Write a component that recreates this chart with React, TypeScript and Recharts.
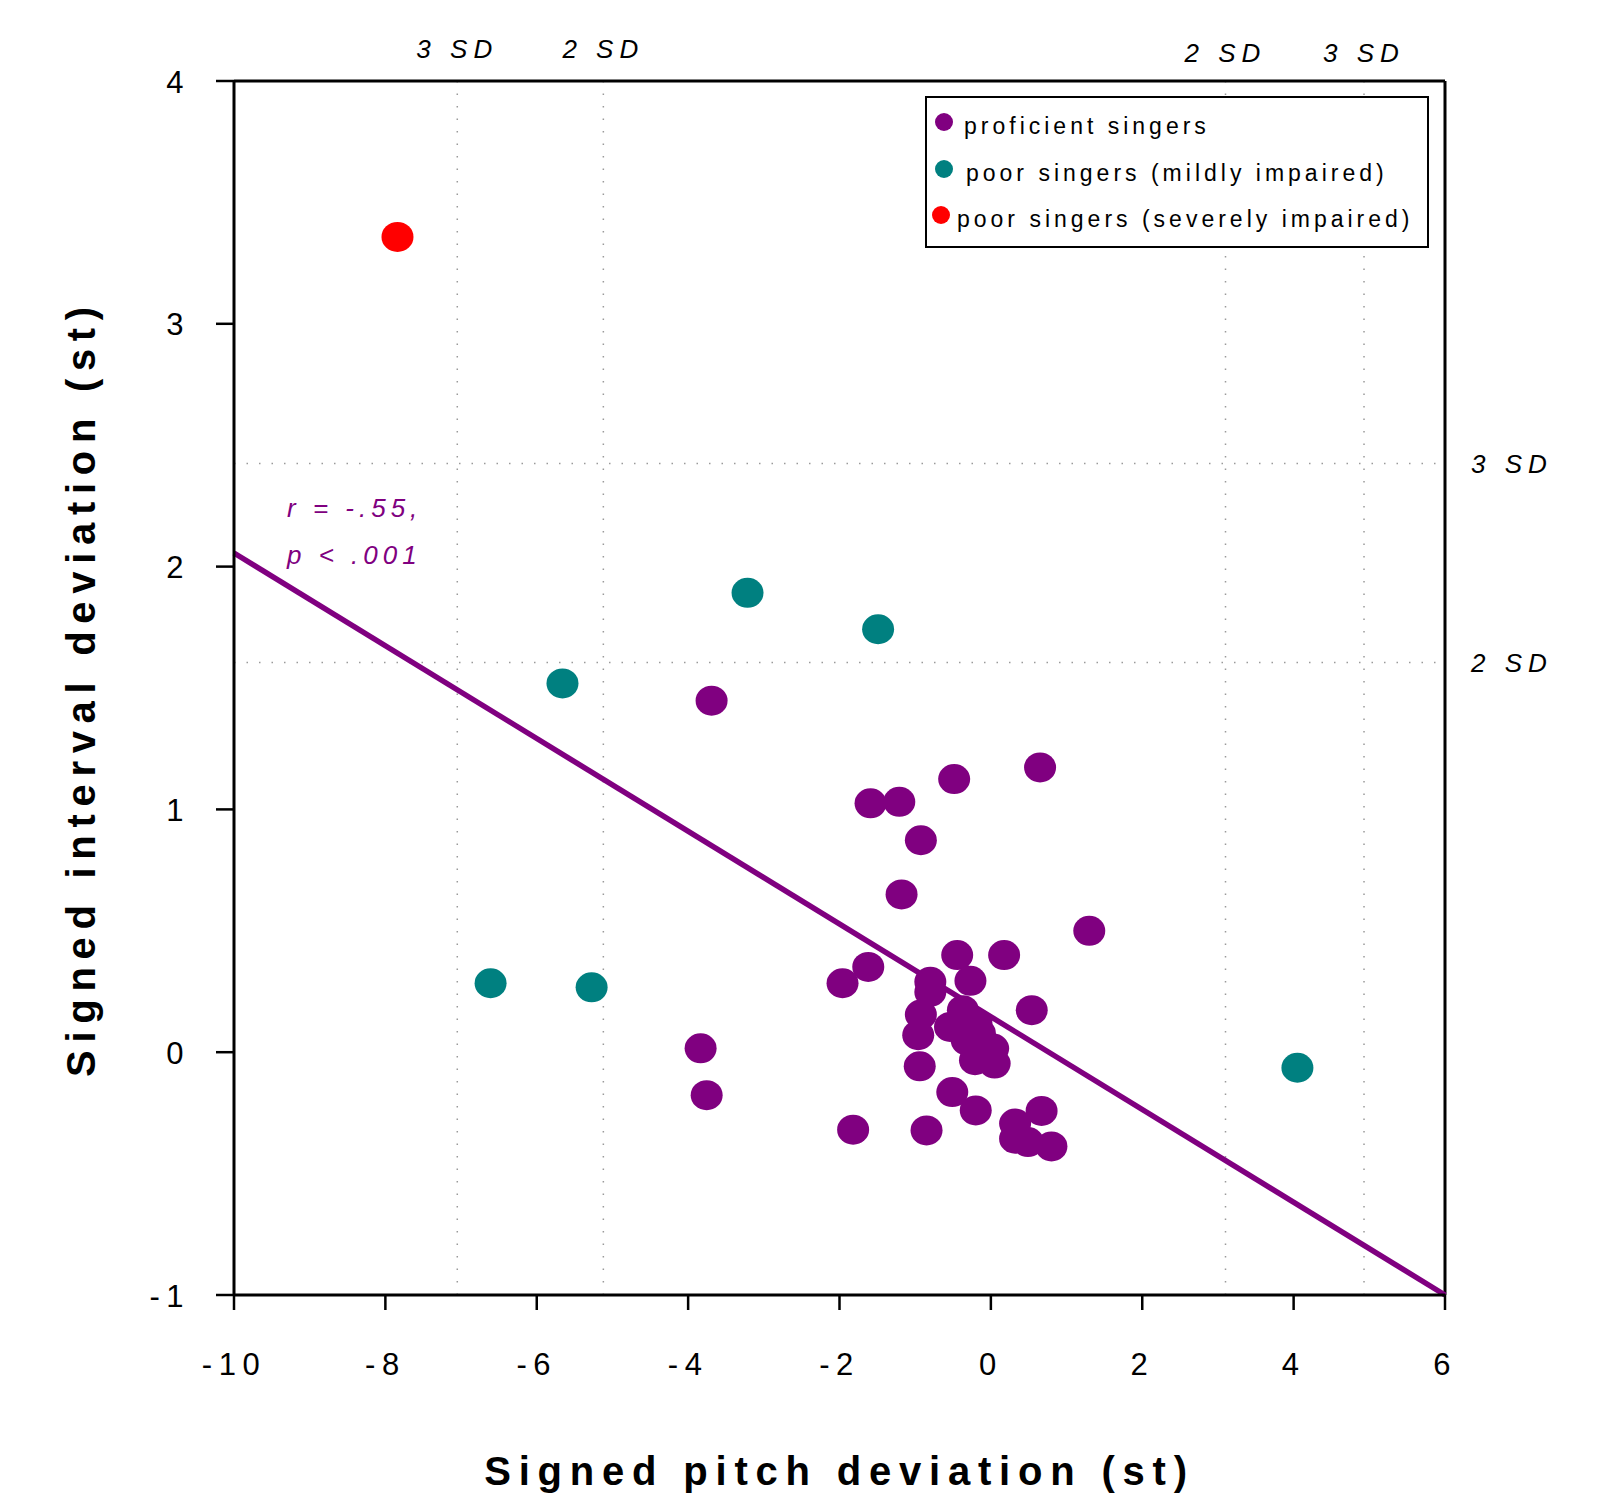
import {
  ScatterChart,
  Scatter,
  XAxis,
  YAxis,
  ReferenceLine,
} from 'recharts'

const FONT = '"Liberation Sans", Arial, sans-serif'
const PURPLE = '#800080'
const TEAL = '#008080'
const RED = '#ff0000'

const xTicks = [-10, -8, -6, -4, -2, 0, 2, 4, 6]
const yTicks = [-1, 0, 1, 2, 3, 4]

// SD cut-offs (dotted lines)
const pitchSdLines = [
  { x: -7.05, label: '3 SD', offset: 23 },
  { x: -5.12, label: '2 SD', offset: 23 },
  { x: 3.1, label: '2 SD', offset: 19 },
  { x: 4.93, label: '3 SD', offset: 19 },
]
const intervalSdLines = [
  { y: 2.425, label: '3 SD' },
  { y: 1.605, label: '2 SD' },
]

// regression line end points
const fitLine = [
  { x: -10, y: 2.056 },
  { x: 6, y: -1 },
]

const proficient = [
  { x: -3.69, y: 1.448 },
  { x: -3.835, y: 0.016 },
  { x: -3.755, y: -0.177 },
  { x: 0.65, y: 1.173 },
  { x: -0.485, y: 1.125 },
  { x: -1.59, y: 1.025 },
  { x: -1.21, y: 1.031 },
  { x: -0.925, y: 0.873 },
  { x: -1.18, y: 0.65 },
  { x: 1.3, y: 0.5 },
  { x: -0.445, y: 0.4 },
  { x: 0.175, y: 0.4 },
  { x: -1.62, y: 0.351 },
  { x: -1.96, y: 0.284 },
  { x: -0.8, y: 0.29 },
  { x: -0.8, y: 0.248 },
  { x: -0.27, y: 0.294 },
  { x: 0.54, y: 0.173 },
  { x: -0.925, y: 0.155 },
  { x: -0.37, y: 0.173 },
  { x: -0.54, y: 0.104 },
  { x: -0.19, y: 0.118 },
  { x: -0.145, y: 0.078 },
  { x: -0.32, y: 0.049 },
  { x: -0.96, y: 0.07 },
  { x: 0.03, y: 0.015 },
  { x: -0.21, y: -0.033 },
  { x: 0.05, y: -0.047 },
  { x: -0.94, y: -0.058 },
  { x: -0.51, y: -0.164 },
  { x: -0.2, y: -0.24 },
  { x: 0.67, y: -0.242 },
  { x: -1.82, y: -0.319 },
  { x: -0.85, y: -0.322 },
  { x: 0.32, y: -0.294 },
  { x: 0.32, y: -0.356 },
  { x: 0.49, y: -0.37 },
  { x: 0.8, y: -0.388 },
]

const mildlyImpaired = [
  { x: -3.215, y: 1.892 },
  { x: -1.49, y: 1.742 },
  { x: -5.66, y: 1.519 },
  { x: -6.61, y: 0.284 },
  { x: -5.275, y: 0.267 },
  { x: 4.05, y: -0.064 },
]

const severelyImpaired = [{ x: -7.84, y: 3.358 }]

const legendItems = [
  { label: 'proficient singers', color: PURPLE, dot: 17, text: 37 },
  { label: 'poor singers (mildly impaired)', color: TEAL, dot: 17, text: 39 },
  { label: 'poor singers (severely impaired)', color: RED, dot: 14, text: 30 },
]

const dotShape = (color: string) => (p: any) => (
  <ellipse cx={p.cx} cy={p.cy} rx={16} ry={15} fill={color} />
)

function LegendBox() {
  return (
    <div
      style={{
        position: 'absolute',
        left: 925,
        top: 96,
        width: 500,
        height: 148,
        border: '2px solid #000',
        background: '#fff',
        fontFamily: FONT,
      }}
    >
      {legendItems.map((it, i) => (
        <div key={it.label}>
          <div
            style={{
              position: 'absolute',
              left: it.dot - 9,
              top: 28 + i * 46.5 - 13,
              width: 18,
              height: 18,
              borderRadius: 9,
              background: it.color,
            }}
          />
          <div
            style={{
              position: 'absolute',
              left: it.text,
              top: 28 + i * 46.5 - 13,
              fontSize: 23,
              letterSpacing: 4,
              whiteSpace: 'nowrap',
              color: '#000',
            }}
          >
            {it.label}
          </div>
        </div>
      ))}
    </div>
  )
}

const XTick = (props: any) => (
  <text
    x={props.x}
    y={props.y + 52}
    textAnchor="middle"
    dominantBaseline="central"
    fontFamily={FONT}
    fontSize={31}
    letterSpacing={6.5}
    fill="#000"
  >
    {props.payload.value}
  </text>
)

const YTick = (props: any) => (
  <text
    x={props.x - 24}
    y={props.y + 1}
    textAnchor="end"
    dominantBaseline="central"
    fontFamily={FONT}
    fontSize={31}
    letterSpacing={6.5}
    fill="#000"
  >
    {props.payload.value}
  </text>
)

const sdLabelStyle = {
  fontFamily: FONT,
  fontSize: 26,
  fontStyle: 'italic',
  letterSpacing: 6,
  fill: '#000',
}

export default function App() {
  return (
    <div style={{ position: 'absolute', left: 0, top: 0, width: 1597, height: 1503, background: '#fff' }}>
      <ScatterChart
        width={1597}
        height={1503}
        margin={{ top: 81, right: 152, bottom: 128, left: 134 }}
      >
        <XAxis
          type="number"
          dataKey="x"
          domain={[-10, 6]}
          ticks={xTicks}
          allowDataOverflow
          axisLine={{ stroke: '#000', strokeWidth: 3 }}
          tickLine={{ stroke: '#000', strokeWidth: 2.5 }}
          tickSize={15}
          tick={<XTick />}
          height={80}
          label={{
            content: (p: any) => (
              <text
                x={p.viewBox.x + p.viewBox.width / 2}
                y={p.viewBox.y + 176}
                textAnchor="middle"
                dominantBaseline="central"
                fontFamily={FONT}
                fontSize={40}
                fontWeight="bold"
                letterSpacing={7.8}
              >
                Signed pitch deviation (st)
              </text>
            ),
          }}
        />
        <YAxis
          type="number"
          dataKey="y"
          domain={[-1, 4]}
          ticks={yTicks}
          allowDataOverflow
          axisLine={{ stroke: '#000', strokeWidth: 3 }}
          tickLine={{ stroke: '#000', strokeWidth: 2.5 }}
          tickSize={18}
          tick={<YTick />}
          width={100}
          label={{
            content: (p: any) => {
              const cx = p.viewBox.x - 53
              const cy = p.viewBox.y + p.viewBox.height / 2
              return (
                <text
                  x={cx}
                  y={cy}
                  transform={`rotate(-90 ${cx} ${cy})`}
                  textAnchor="middle"
                  dominantBaseline="central"
                  fontFamily={FONT}
                  fontSize={40}
                  fontWeight="bold"
                  letterSpacing={7.7}
                >
                  Signed interval deviation (st)
                </text>
              )
            },
          }}
        />
        {pitchSdLines.map((l, i) => (
          <ReferenceLine
            key={'v' + i}
            x={l.x}
            stroke="#9a9a9a"
            strokeWidth={1.5}
            strokeDasharray="1.5 11"
            label={{ value: l.label, position: 'top', offset: l.offset, ...sdLabelStyle }}
          />
        ))}
        {intervalSdLines.map((l, i) => (
          <ReferenceLine
            key={'h' + i}
            y={l.y}
            stroke="#9a9a9a"
            strokeWidth={1.5}
            strokeDasharray="1.5 11"
            label={{ value: l.label, position: 'right', offset: 26, ...sdLabelStyle }}
          />
        ))}
        <ReferenceLine y={4} stroke="#000" strokeWidth={3} />
        <ReferenceLine x={6} stroke="#000" strokeWidth={3} />
        <ReferenceLine segment={fitLine} stroke={PURPLE} strokeWidth={5.5} />
        <Scatter
          name="proficient singers"
          data={proficient}
          fill={PURPLE}
          shape={dotShape(PURPLE)}
          isAnimationActive={false}
        />
        <Scatter
          name="poor singers (mildly impaired)"
          data={mildlyImpaired}
          fill={TEAL}
          shape={dotShape(TEAL)}
          isAnimationActive={false}
        />
        <Scatter
          name="poor singers (severely impaired)"
          data={severelyImpaired}
          fill={RED}
          shape={dotShape(RED)}
          isAnimationActive={false}
        />
      </ScatterChart>
      <LegendBox />
      <svg
        width={600}
        height={120}
        style={{ position: 'absolute', left: 0, top: 460, pointerEvents: 'none' }}
      >
        <text x={287} y={48} fontFamily={FONT} fontSize={26} fontStyle="italic" letterSpacing={5} fill={PURPLE} dominantBaseline="central">
          r = -.55,
        </text>
        <text x={287} y={95} fontFamily={FONT} fontSize={26} fontStyle="italic" letterSpacing={5} fill={PURPLE} dominantBaseline="central">
          p &lt; .001
        </text>
      </svg>
    </div>
  )
}
